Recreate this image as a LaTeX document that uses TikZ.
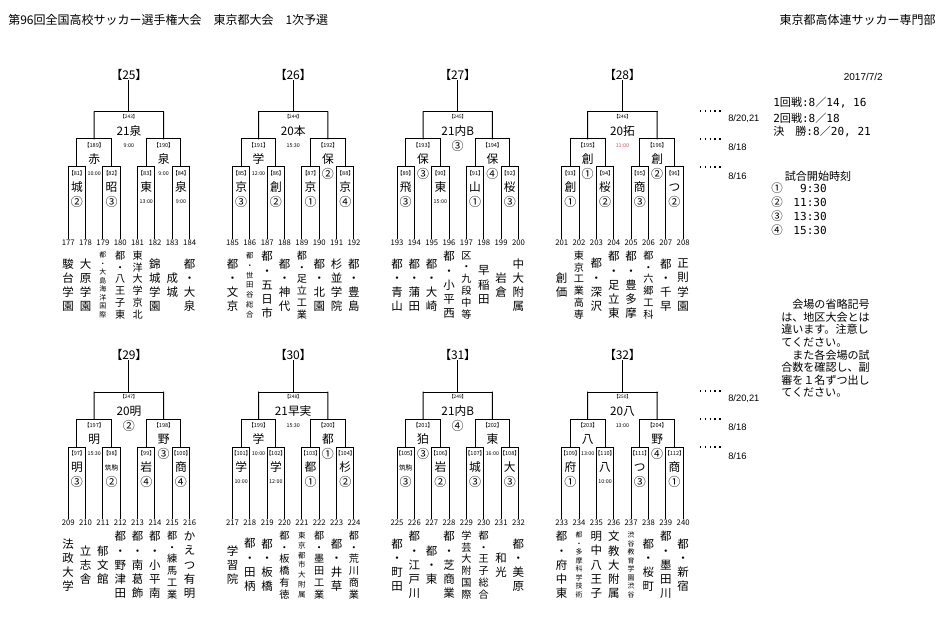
\documentclass[tikz,border=0pt]{standalone}
\usepackage{fontspec}
\setmainfont{Noto Sans CJK JP}
\newfontfamily\jpp[RawFeature=+palt]{Noto Sans CJK JP}
\newfontfamily\monof{DejaVu Sans Mono}
\newfontfamily\libsans{Liberation Sans}
\usetikzlibrary{calc}
\definecolor{tred}{RGB}{240,70,70}
\makeatletter
\def\vstack#1{\vs@first#1\@nil}
\def\vs@first#1#2\@nil{\def\vs@out{#1}\vs@rest#2\@nil}
\def\vs@rest#1\@nil{\ifx\relax#1\relax\expandafter\vs@done\else\expandafter\vs@next\fi#1\@nil}
\def\vs@done\@nil{\vs@out}
\def\vs@next#1#2\@nil{\expandafter\def\expandafter\vs@out\expandafter{\vs@out\\#1}\vs@rest#2\@nil}
\makeatother
\tikzset{
 br/.style={line width=0.75pt, line cap=rect},
 hdr/.style={font=\fontsize{9}{10}\selectfont, inner sep=0pt},
 blab/.style={font=\jpp\fontsize{9}{10}\selectfont, inner sep=0pt},
 tnum/.style={font=\fontsize{5.8}{6}\selectfont, inner sep=0pt},
 mn/.style={font=\jpp\fontsize{4.2}{5}\selectfont, inner sep=0pt},
 mnt/.style={font=\jpp\fontsize{3.6}{4}\selectfont, inner sep=0pt},
 win/.style={font=\fontsize{8.8}{9}\selectfont, inner sep=0pt},
 circ/.style={font=\fontsize{9}{9}\selectfont, inner sep=0pt},
 tm/.style={font=\fontsize{4}{4}\selectfont, inner sep=0pt},
 tmr/.style={tm, text=tred},
 nm/.style={align=center, inner sep=0pt, font=\fontsize{8.6}{10.65}\selectfont},
 nmsix/.style={align=center, inner sep=0pt, font=\fontsize{7.6}{8.85}\selectfont},
 nmseven/.style={align=center, inner sep=0pt, font=\fontsize{5.6}{7.35}\selectfont},
 nmeight/.style={align=center, inner sep=0pt, font=\fontsize{5.2}{6.4}\selectfont},
 dotl/.style={line width=1pt, dash pattern=on 1pt off 2.6pt},
 dt/.style={font=\libsans\fontsize{7}{8}\selectfont, inner sep=0pt, anchor=west},
 sched/.style={font=\fontsize{8.3}{9}\selectfont, inner sep=0pt, anchor=west},
 note/.style={font=\fontsize{8.3}{9.45}\selectfont, inner sep=0pt, align=left, anchor=north west},
}
\def\pA{8.675}\def\pB{43.375}\def\pC{78.075}\def\pD{112.775}
\def\qL{26.025}\def\qR{95.425}\def\qC{60.725}
\newcommand\bracket[4]{%
\begin{scope}[shift={(#1,#2)}]
\node[blab] (lab#4) at (60.725,75) {【#4】};
\coordinate (top#4) at (60.725,112);
\foreach \i in {0,...,7}{%
 \pgfmathtruncatemacro\tn{#3+\i}%
 \node[tnum] (n\tn) at (\i*17.35,243) {\tn};
 \coordinate (t\tn) at (\i*17.35,167);
 \draw[br] (t\tn) -- ([yshift=1pt]n\tn.north);
}
\foreach \k in {0,...,3}{%
 \pgfmathtruncatemacro\ta{#3+2*\k}\pgfmathtruncatemacro\tb{#3+2*\k+1}%
 \coordinate (ra\ta) at ({(2*\k+0.5)*17.35},139);
 \draw[br] (t\ta) -- (t\tb);
 \draw[br] (ra\ta) -- ($(t\ta)!0.5!(t\tb)$);
}
\foreach \k in {0,1}{%
 \pgfmathtruncatemacro\ta{#3+4*\k}\pgfmathtruncatemacro\tb{#3+4*\k+2}%
 \coordinate (rb\ta) at ({(4*\k+1.5)*17.35},112);
 \draw[br] (ra\ta) -- (ra\tb);
 \draw[br] (rb\ta) -- ($(ra\ta)!0.5!(ra\tb)$);
}
\pgfmathtruncatemacro\tc{#3+4}%
\draw[br] (rb#3) -- (rb\tc);
\draw[br] (lab#4.south) -- (top#4);
\end{scope}}
\newcommand\mlab[7]{%
\node[#1] (mn#5) at (#3,#4) {【#5】};
\node[win] (mw#5) at (#3,#4+14.5) {#6};
\node[#2] (ms#5) at (#3,#4+29) {#7};}
\newcommand\names[4]{%
\begin{scope}[shift={(#1,#2)}]
\foreach \sty/\nam [count=\i from 0] in {#4}{%
 \pgfmathtruncatemacro\tn{#3+\i}%
 \node[\sty] (nm\tn) at (\i*17.35,285) {\expandafter\vstack\expandafter{\nam}};
}
\end{scope}}
\newcommand\sm[1]{{\fontsize{5}{5}\selectfont #1}}
\begin{document}
\begin{tikzpicture}[x=0.75pt,y=-0.75pt]
\fill[white] (0,0) rectangle (945,627);
\useasboundingbox (0,0) rectangle (945,627);
\node[hdr, anchor=west] (hdrL) at (8,20) {第96回全国高校サッカー選手権大会　東京都大会　1次予選};
\node[hdr, anchor=east] (hdrR) at (936,20) {東京都高体連サッカー専門部};
% brackets
\bracket{68.2}{0}{177}{25}
\bracket{232.5}{0}{185}{26}
\bracket{397}{0}{193}{27}
\bracket{561.7}{0}{201}{28}
\bracket{68.2}{280}{209}{29}
\bracket{232.5}{280}{217}{30}
\bracket{397}{280}{225}{31}
\bracket{561.7}{280}{233}{32}
% labels 25
\begin{scope}[shift={(68.2,0)}]
\mlab{mnt}{tm}{\qC}{117}{243}{21泉}{9:00}
\mlab{mn}{tm}{\qL}{145}{189}{赤}{10:00}
\mlab{mn}{tm}{\qR}{145}{190}{泉}{9:00}
\mlab{mn}{circ}{\pA}{173}{81}{城}{②}
\mlab{mn}{circ}{\pB}{173}{82}{昭}{③}
\mlab{mn}{tm}{\pC}{173}{83}{東}{13:00}
\mlab{mn}{tm}{\pD}{173}{84}{泉}{9:00}
\end{scope}
\begin{scope}[shift={(232.5,0)}]
\mlab{mnt}{tm}{\qC}{117}{244}{20本}{15:30}
\mlab{mn}{tm}{\qL}{145}{191}{学}{12:00}
\mlab{mn}{circ}{\qR}{145}{192}{保}{②}
\mlab{mn}{circ}{\pA}{173}{85}{京}{③}
\mlab{mn}{circ}{\pB}{173}{86}{創}{②}
\mlab{mn}{circ}{\pC}{173}{87}{京}{①}
\mlab{mn}{circ}{\pD}{173}{88}{京}{④}
\end{scope}
\begin{scope}[shift={(397,0)}]
\mlab{mnt}{circ}{\qC}{117}{245}{21内B}{③}
\mlab{mn}{circ}{\qL}{145}{193}{保}{③}
\mlab{mn}{circ}{\qR}{145}{194}{保}{④}
\mlab{mn}{circ}{\pA}{173}{89}{飛}{③}
\mlab{mn}{tm}{\pB}{173}{90}{東}{15:00}
\mlab{mn}{circ}{\pC}{173}{91}{山}{①}
\mlab{mn}{circ}{\pD}{173}{92}{桜}{③}
\end{scope}
\begin{scope}[shift={(561.7,0)}]
\mlab{mnt}{tmr}{\qC}{117}{246}{20拓}{11:00}
\mlab{mn}{circ}{\qL}{145}{195}{創}{①}
\mlab{mn}{circ}{\qR}{145}{196}{創}{②}
\mlab{mn}{circ}{\pA}{173}{93}{創}{①}
\mlab{mn}{circ}{\pB}{173}{94}{桜}{②}
\mlab{mn}{circ}{\pC}{173}{95}{商}{③}
\mlab{mn}{circ}{\pD}{173}{96}{つ}{②}
\end{scope}
\begin{scope}[shift={(68.2,280)}]
\mlab{mnt}{circ}{\qC}{117}{247}{20明}{②}
\mlab{mn}{tm}{\qL}{145}{197}{明}{15:30}
\mlab{mn}{circ}{\qR}{145}{198}{野}{③}
\mlab{mn}{circ}{\pA}{173}{97}{明}{③}
\mlab{mn}{circ}{\pB}{173}{98}{\sm{筑駒}}{②}
\mlab{mn}{circ}{\pC}{173}{99}{岩}{④}
\mlab{mn}{circ}{\pD}{173}{100}{商}{④}
\end{scope}
\begin{scope}[shift={(232.5,280)}]
\mlab{mnt}{tm}{\qC}{117}{248}{21早実}{15:30}
\mlab{mn}{tm}{\qL}{145}{199}{学}{10:00}
\mlab{mn}{circ}{\qR}{145}{200}{都}{①}
\mlab{mn}{tm}{\pA}{173}{101}{学}{10:00}
\mlab{mn}{tm}{\pB}{173}{102}{学}{12:00}
\mlab{mn}{circ}{\pC}{173}{103}{都}{①}
\mlab{mn}{circ}{\pD}{173}{104}{杉}{②}
\end{scope}
\begin{scope}[shift={(397,280)}]
\mlab{mnt}{circ}{\qC}{117}{249}{21内B}{④}
\mlab{mn}{circ}{\qL}{145}{201}{狛}{③}
\mlab{mn}{tm}{\qR}{145}{202}{東}{16:00}
\mlab{mn}{circ}{\pA}{173}{105}{\sm{筑駒}}{③}
\mlab{mn}{circ}{\pB}{173}{106}{岩}{②}
\mlab{mn}{circ}{\pC}{173}{107}{城}{③}
\mlab{mn}{circ}{\pD}{173}{108}{大}{③}
\end{scope}
\begin{scope}[shift={(561.7,280)}]
\mlab{mnt}{tm}{\qC}{117}{250}{20八}{13:00}
\mlab{mn}{tm}{\qL}{145}{203}{八}{13:00}
\mlab{mn}{circ}{\qR}{145}{204}{野}{④}
\mlab{mn}{circ}{\pA}{173}{109}{府}{①}
\mlab{mn}{tm}{\pB}{173}{110}{八}{10:00}
\mlab{mn}{circ}{\pC}{173}{111}{つ}{③}
\mlab{mn}{circ}{\pD}{173}{112}{商}{①}
\end{scope}
% team names
\names{68.2}{0}{177}{nm/駿台学園,nm/大原学園,nmeight/都・大島海洋国際,nmsix/都・八王子東,nmsix/東洋大学京北,nm/錦城学園,nm/成城,nm/都・大泉}
\names{232.5}{0}{185}{nm/都・文京,nmseven/都・世田谷総合,nm/都・五日市,nm/都・神代,nmsix/都・足立工業,nm/都・北園,nm/杉並学院,nm/都・豊島}
\names{397}{0}{193}{nm/都・青山,nm/都・蒲田,nm/都・大崎,nm/都・小平西,nmsix/区・九段中等,nm/早稲田,nm/岩倉,nm/中大附属}
\names{561.7}{0}{201}{nm/創価,nmsix/東京工業高専,nm/都・深沢,nm/都・足立東,nm/都・豊多摩,nmsix/都・六郷工科,nm/都・千早,nm/正則学園}
\names{68.2}{280}{209}{nm/法政大学,nm/立志舎,nm/郁文館,nm/都・野津田,nm/都・南葛飾,nm/都・小平南,nmsix/都・練馬工業,nm/かえつ有明}
\names{232.5}{280}{217}{nm/学習院,nm/都・田柄,nm/都・板橋,nmsix/都・板橋有徳,nmseven/東京都市大附属,nmsix/都・墨田工業,nm/都・井草,nmsix/都・荒川商業}
\names{397}{280}{225}{nm/都・町田,nm/都・江戸川,nm/都・東,nm/都・芝商業,nmsix/学芸大附国際,nmsix/都・王子総合,nm/和光,nm/都・美原}
\names{561.7}{280}{233}{nm/都・府中東,nmeight/都・多摩科学技術,nm/明中八王子,nm/文教大附属,nmeight/渋谷教育学園渋谷,nm/都・桜町,nm/都・墨田川,nm/都・新宿}
% right side
\node[font=\libsans\fontsize{7.5}{8}\selectfont, inner sep=0pt, anchor=east] (date) at (883,77) {2017/7/2};
\foreach \yo/\tg in {0/a,280/b}{
 \coordinate (d1\tg) at (700,111+\yo); \coordinate (e1\tg) at (723,111+\yo);
 \coordinate (d2\tg) at (700,139+\yo); \coordinate (e2\tg) at (723,139+\yo);
 \coordinate (d3\tg) at (700,167+\yo); \coordinate (e3\tg) at (723,167+\yo);
 \draw[dotl] (d1\tg) -- (e1\tg);
 \draw[dotl] (d2\tg) -- (e2\tg);
 \draw[dotl] (d3\tg) -- (e3\tg);
 \node[dt] (f1\tg) at (728,119+\yo) {8/20,21};
 \node[dt] (f2\tg) at (728,147+\yo) {8/18};
 \node[dt] (f3\tg) at (728,176+\yo) {8/16};
}
\node[sched] (s1) at (773,103) {{\monof 1}回戦{\monof :8}／{\monof 14, 16}};
\node[sched] (s2) at (773,118) {{\monof 2}回戦{\monof :8}／{\monof 18}};
\node[sched] (s3) at (773,132) {決　勝{\monof :8}／{\monof 20, 21}};
\node[font=\fontsize{8.3}{9}\selectfont, inner sep=0pt] (kaishi) at (818,176) {試合開始時刻};
\foreach \c/\tt [count=\j from 0] in {①/9:30,②/11:30,③/13:30,④/15:30}{
 \node[font=\fontsize{8.6}{9}\selectfont, inner sep=0pt] (kc\j) at (777,188+14*\j) {\c};
 \node[font=\monof\fontsize{8.3}{9}\selectfont, inner sep=0pt, anchor=east] (kt\j) at (827,188+14*\j) {\tt};
}
\node[note] (memo) at (781,299) {　会場の省略記号\\は、地区大会とは\\違います。注意し\\てください。\\　また各会場の試\\合数を確認し、副\\審を１名ずつ出し\\てください。};
\end{tikzpicture}
\end{document}
